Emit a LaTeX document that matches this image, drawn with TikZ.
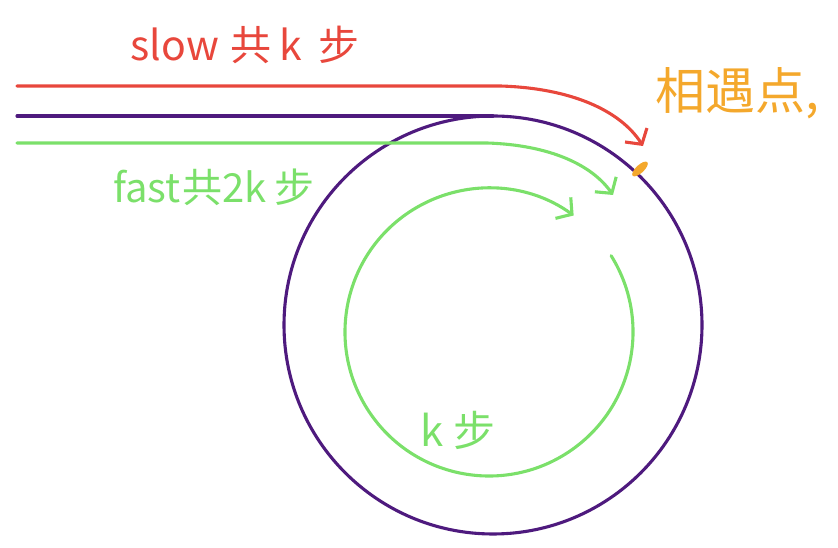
\documentclass[tikz,border=0pt]{standalone}
\usepackage{fontspec}
\setmainfont{Noto Sans CJK SC}
\usetikzlibrary{arrows.meta,shapes.geometric}
\definecolor{cred}{HTML}{E8473C}
\definecolor{cpurple}{HTML}{4E1A7E}
\definecolor{cgreen}{HTML}{7BE06A}
\definecolor{corange}{HTML}{F4A82C}
\tikzset{
  stroke/.style={line width=3.1pt, line cap=round, line join=round},
  barb/.style={-{Straight Barb[length=11pt,width=26pt,line width=3.1pt]}},
  hand/.style={inner sep=0pt, anchor=center}
}
\begin{document}
\begin{tikzpicture}[x=1pt,y=1pt]
\useasboundingbox (0,0) rectangle (838,548);
% coordinates
\coordinate (rs) at (17,462);
\coordinate (rb) at (500,462);
\coordinate (rt) at (643,402);
\coordinate (ps) at (17,432);
\coordinate (pt) at (493,432);
\coordinate (gs) at (17,405);
\coordinate (gb) at (487,405);
\coordinate (gt) at (613,353);
\coordinate (c) at (493,223);
\coordinate (ic) at (489,216);
% purple loop
\node[draw=cpurple, line width=3.1pt, circle, minimum size=418pt, inner sep=0pt] (loop) at (c) {};
\draw[stroke, cpurple] (ps) -- (pt);
% red slow path
\draw[stroke, cred, barb] (rs) -- (rb) .. controls (570,460) and (620,438) .. (rt);
% green fast path
\draw[stroke, cgreen, barb] (gs) -- (gb) .. controls (550,403) and (592,383) .. (gt);
% inner green loop
\draw[stroke, cgreen, barb] (ic) ++(32:144) arc[start angle=32, end angle=-306, radius=144];
% meeting point
\node[fill=corange, ellipse, draw=none, inner sep=0pt, minimum width=20pt, minimum height=8pt, rotate=43] (meetpt) at (640,379) {};
% labels
\node[hand, text=cred, font=\fontsize{41}{44}\selectfont] (slow) at (245,503) {slow\hspace{12pt}共\hspace{8pt}k\hspace{16pt}步};
\node[hand, text=cgreen, font=\fontsize{40}{44}\selectfont] (fast) at (214,361) {fast\hspace{2pt}共2k\hspace{8pt}步};
\node[hand, text=corange, font=\fontsize{50}{54}\selectfont] (meet) at (737,455) {相遇点,};
\node[hand, text=cgreen, font=\fontsize{42}{46}\selectfont] (kstep) at (458,118) {k\hspace{10pt}步};
\end{tikzpicture}
\end{document}
